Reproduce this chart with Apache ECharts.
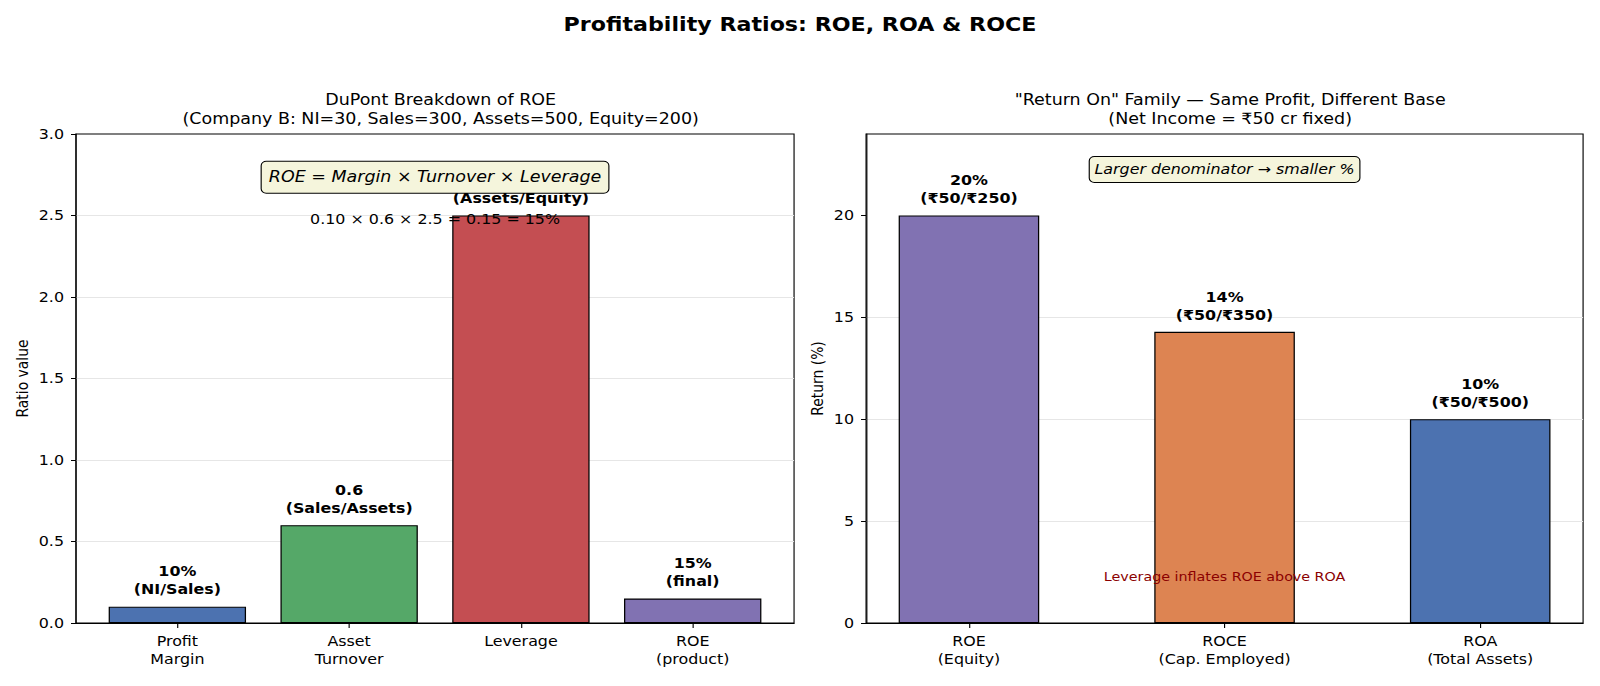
<!DOCTYPE html>
<html>
<head>
<meta charset="utf-8">
<script src="https://cdn.jsdelivr.net/npm/echarts@6/dist/echarts.min.js"></script>
<style>
html,body{margin:0;padding:0;background:#fff;overflow:hidden;width:1600px;height:686px;}
#c{width:1400px;height:686px;transform:scaleX(1.142857);transform-origin:0 0;}
</style>
</head>
<body>
<div id="c"></div>
<script>
// ---- data ----
const dupontCats = ['Profit\nMargin', 'Asset\nTurnover', 'Leverage', 'ROE\n(product)'];
const dupontValues = [0.10, 0.6, 2.5, 0.15];
const dupontLabels = ['10%\n(NI/Sales)', '0.6\n(Sales/Assets)', '2.5\n(Assets/Equity)', '15%\n(final)'];
const dupontTicks = [0, 0.5, 1.0, 1.5, 2.0, 2.5, 3.0];

const returnCats = ['ROE\n(Equity)', 'ROCE\n(Cap. Employed)', 'ROA\n(Total Assets)'];
const returnValues = [20, 14.29, 10];
const returnLabels = ['20%\n(₹50/₹250)', '14%\n(₹50/₹350)', '10%\n(₹50/₹500)'];
const returnTicks = [0, 5, 10, 15, 20];

const dupontColors = ['#4c72b0', '#55a868', '#c44e52', '#8172b2'];
const returnColors = ['#8172b2', '#dd8452', '#4c72b0'];

// ---- chart ----
// The figure is laid out on a 1400px-wide canvas and stretched horizontally to 1600px,
// matching the horizontally stretched reference.
const FF = 'DejaVu Sans';
const chart = echarts.init(document.getElementById('c'), null, {renderer: 'svg', width: 1400, height: 686});

function xAxisFor(gridIndex, cats, min, max) {
  const idx = cats.map((_, i) => i);
  return {
    type: 'value', gridIndex, min, max,
    axisLine: {show: true, onZero: false, lineStyle: {color: '#000', width: 1}},
    axisTick: {show: true, length: 5, customValues: idx, lineStyle: {color: '#000'}},
    axisLabel: {customValues: idx, formatter: v => cats[Math.round(v)], fontFamily: FF, fontSize: 13.9,
                color: '#000', lineHeight: 18, margin: 9},
    splitLine: {show: false}
  };
}
function yAxisFor(gridIndex, ticks, max, name, fmt, gap) {
  return {
    type: 'value', gridIndex, min: 0, max,
    name, nameLocation: 'middle', nameGap: gap,
    nameTextStyle: {fontFamily: FF, fontSize: 13.9, color: '#000'},
    axisLine: {show: true, onZero: false, lineStyle: {color: '#000', width: 1}},
    axisTick: {show: true, length: 4.4, customValues: ticks, lineStyle: {color: '#000'}},
    axisLabel: {customValues: ticks, formatter: fmt, fontFamily: FF, fontSize: 13.9, color: '#000', margin: 10.5},
    splitLine: {show: true, showMinLine: false, showMaxLine: false, lineStyle: {color: '#e6e6e6', width: 1}}
  };
}
function barSeries(xi, values, labels, colors, width) {
  return {
    type: 'bar', xAxisIndex: xi, yAxisIndex: xi, z: 2,
    barWidth: width,
    data: values.map((v, i) => ({value: [i, v], itemStyle: {color: colors[i]}})),
    itemStyle: {borderColor: '#000', borderWidth: 1.1},
    label: {show: true, position: 'top', distance: 8,
            formatter: p => labels[p.dataIndex],
            fontFamily: FF, fontSize: 13.9, fontWeight: 'bold', color: '#000', lineHeight: 18, align: 'center'},
    emphasis: {disabled: true}, animation: false
  };
}
function textSeries(xi, pos, text, style) {
  return {
    type: 'scatter', xAxisIndex: xi, yAxisIndex: xi, z: 20, silent: true,
    symbolSize: 0, itemStyle: {color: '#000', opacity: 1},
    data: [pos],
    label: Object.assign({show: true, position: 'inside', formatter: () => text,
                          fontFamily: FF, align: 'center', verticalAlign: 'middle'}, style),
    emphasis: {disabled: true},
    animation: false
  };
}

const option = {
  backgroundColor: '#fff',
  animation: false,
  title: [
    {text: 'Profitability Ratios: ROE, ROA & ROCE', left: 'center', top: 10,
     textStyle: {fontFamily: FF, fontSize: 19.4, fontWeight: 'bold', color: '#000'}},
    {text: 'DuPont Breakdown of ROE\n(Company B: NI=30, Sales=300, Assets=500, Equity=200)',
     left: 380.6, textAlign: 'center', top: 86,
     textStyle: {fontFamily: FF, fontSize: 15.3, fontWeight: 'normal', color: '#000', lineHeight: 18.3}},
    {text: '"Return On" Family — Same Profit, Different Base\n(Net Income = ₹50 cr fixed)',
     left: 1071.4, textAlign: 'center', top: 86,
     textStyle: {fontFamily: FF, fontSize: 15.3, fontWeight: 'normal', color: '#000', lineHeight: 18.3}}
  ],
  grid: [
    {left: 66.5, top: 134, width: 628.3, height: 489, show: true, borderColor: '#000', borderWidth: 1, backgroundColor: 'transparent'},
    {left: 757.8, top: 134, width: 627.4, height: 489, show: true, borderColor: '#000', borderWidth: 1, backgroundColor: 'transparent'}
  ],
  xAxis: [
    xAxisFor(0, dupontCats, -0.59, 3.59),
    xAxisFor(1, returnCats, -0.4025, 2.4025)
  ],
  yAxis: [
    yAxisFor(0, dupontTicks, 3.0, 'Ratio value', v => v.toFixed(1), 39.5),
    yAxisFor(1, returnTicks, 24, 'Return (%)', v => String(v), 35)
  ],
  series: [
    barSeries(0, dupontValues, dupontLabels, dupontColors, 120.2),
    barSeries(1, returnValues, returnLabels, returnColors, 123.0),
    textSeries(0, [1.5, 2.735], 'ROE = Margin × Turnover × Leverage',
      {fontSize: 15.3, fontStyle: 'italic', color: '#000', backgroundColor: '#f5f5dc', lineHeight: 19,
       borderColor: '#000', borderWidth: 1, borderRadius: 4, padding: [6, 6, 6, 6]}),
    textSeries(0, [1.5, 2.478], '0.10 × 0.6 × 2.5 = 0.15 = 15%', {fontSize: 13.9, color: '#000'}),
    textSeries(1, [1, 22.26], 'Larger denominator → smaller %',
      {fontSize: 13.9, fontStyle: 'italic', color: '#000', backgroundColor: '#f5f5dc', lineHeight: 17,
       borderColor: '#000', borderWidth: 1, borderRadius: 4, padding: [4, 4, 4, 4]}),
    textSeries(1, [1, 2.26], 'Leverage inflates ROE above ROA', {fontSize: 12.5, color: '#8b0000'})
  ]
};
chart.setOption(option);
</script>
</body>
</html>
